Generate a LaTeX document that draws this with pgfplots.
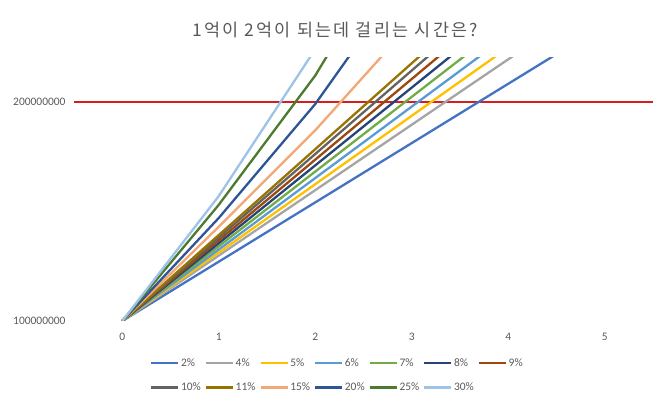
\documentclass[border=0pt]{standalone}
\usepackage{pgfplots}
\pgfplotsset{compat=1.18}
\usepackage{fontspec}
\setmainfont{Carlito}
\newfontfamily\kr[LetterSpace=13]{Noto Sans CJK KR}
\definecolor{txt}{HTML}{595959}
\definecolor{c2}{HTML}{4472C4}
\definecolor{c4}{HTML}{A5A5A5}
\definecolor{c5}{HTML}{FFC000}
\definecolor{c6}{HTML}{5B9BD5}
\definecolor{c7}{HTML}{70AD47}
\definecolor{c8}{HTML}{264478}
\definecolor{c9}{HTML}{9E480E}
\definecolor{c10}{HTML}{636363}
\definecolor{c11}{HTML}{997300}
\definecolor{c15}{HTML}{F2A875}
\definecolor{c20}{HTML}{2F5597}
\definecolor{c25}{HTML}{4E7A30}
\definecolor{c30}{HTML}{9DC3E6}
\definecolor{limitred}{RGB}{215,30,30}
\begin{document}
\begin{tikzpicture}
\path[use as bounding box] (0,0) rectangle (663bp,404bp);
\node[font=\kr\fontsize{17.5}{20}\selectfont, text=txt] at (335bp,374bp) {1억이 2억이 되는데 걸리는 시간은?};
\begin{axis}[
  at={(74bp,83bp)}, anchor=south west,
  scale only axis, width=579bp, height=263bp,
  xmin=-0.5, xmax=5.5, ymin=100000000, ymax=220000000,
  axis line style={draw=none},
  xtick={0,1,2,3,4,5}, xticklabels={0,1,2,3,4,5},
  ytick={100000000,200000000}, yticklabels={100000000,200000000},
  scaled y ticks=false,
  major tick length=0pt, tick style={draw=none},
  ticklabel style={font=\fontsize{11.5}{13}\selectfont, text=txt},
  xticklabel style={yshift=-9bp},
  yticklabel style={xshift=-5bp},
  legend columns=7,
  legend style={at={(axis description cs:0.1313,-0.137)}, anchor=north west,
    draw=none, fill=none, inner sep=0pt, outer sep=0pt,
    font=\fontsize{11.5}{13}\selectfont, text=txt,
    nodes={inner sep=1.5bp},
    row sep=12bp,
    /tikz/every even column/.append style={column sep=2bp}},
  legend image code/.code={\draw[#1, line width=2.6bp] (0bp,0bp) -- (27bp,0bp);},
  every axis plot/.append style={line width=2.3bp, line join=round, mark=none},
]
\draw[gray!30, line width=0.8bp] (rel axis cs:0,0) -- (rel axis cs:1,0);
\addplot[color=limitred, solid, line width=1.5bp, forget plot] coordinates {(-0.5,200000000) (5.5,200000000)};
\addplot[c2] coordinates {(0,100000000) (1,127060000) (2,154120000) (3,181180000) (4,208240000) (5,235300000)};
\addlegendentry{\makebox[20bp][l]{2\%}}
\addplot[c4] coordinates {(0,100000000) (1,129850000) (2,159700000) (3,189550000) (4,219400000) (5,249250000)};
\addlegendentry{\makebox[20bp][l]{4\%}}
\addplot[c5] coordinates {(0,100000000) (1,131210000) (2,162420000) (3,193630000) (4,224840000) (5,256050000)};
\addlegendentry{\makebox[20bp][l]{5\%}}
\addplot[c6] coordinates {(0,100000000) (1,132610000) (2,165220000) (3,197830000) (4,230440000) (5,263050000)};
\addlegendentry{\makebox[20bp][l]{6\%}}
\addplot[c7] coordinates {(0,100000000) (1,134090000) (2,168180000) (3,202270000) (4,236360000) (5,270450000)};
\addlegendentry{\makebox[20bp][l]{7\%}}
\addplot[c8] coordinates {(0,100000000) (1,135500000) (2,171000000) (3,206500000) (4,242000000) (5,277500000)};
\addlegendentry{\makebox[20bp][l]{8\%}}
\addplot[c9] coordinates {(0,100000000) (1,136810000) (2,173620000) (3,210430000) (4,247240000) (5,284050000)};
\addlegendentry{\makebox[20bp][l]{9\%}}
\addplot[c10] coordinates {(0,100000000) (1,138100000) (2,176200000) (3,214300000) (4,252400000) (5,290500000)};
\addlegendentry{\makebox[20bp][l]{10\%}}
\addplot[c11] coordinates {(0,100000000) (1,139200000) (2,178400000) (3,217600000) (4,256800000) (5,296000000)};
\addlegendentry{\makebox[20bp][l]{11\%}}
\addplot[c15] coordinates {(0,100000000) (1,143000000) (2,187000000) (3,236000000) (4,285000000) (5,334000000)};
\addlegendentry{\makebox[20bp][l]{15\%}}
\addplot[c20] coordinates {(0,100000000) (1,147000000) (2,199000000) (3,261000000) (4,325000000) (5,390000000)};
\addlegendentry{\makebox[20bp][l]{20\%}}
\addplot[c25] coordinates {(0,100000000) (1,153000000) (2,212000000) (3,285000000) (4,360000000) (5,450000000)};
\addlegendentry{\makebox[20bp][l]{25\%}}
\addplot[c30] coordinates {(0,100000000) (1,157000000) (2,224000000) (3,310000000) (4,400000000) (5,520000000)};
\addlegendentry{\makebox[20bp][l]{30\%}}
\end{axis}
\end{tikzpicture}
\end{document}
